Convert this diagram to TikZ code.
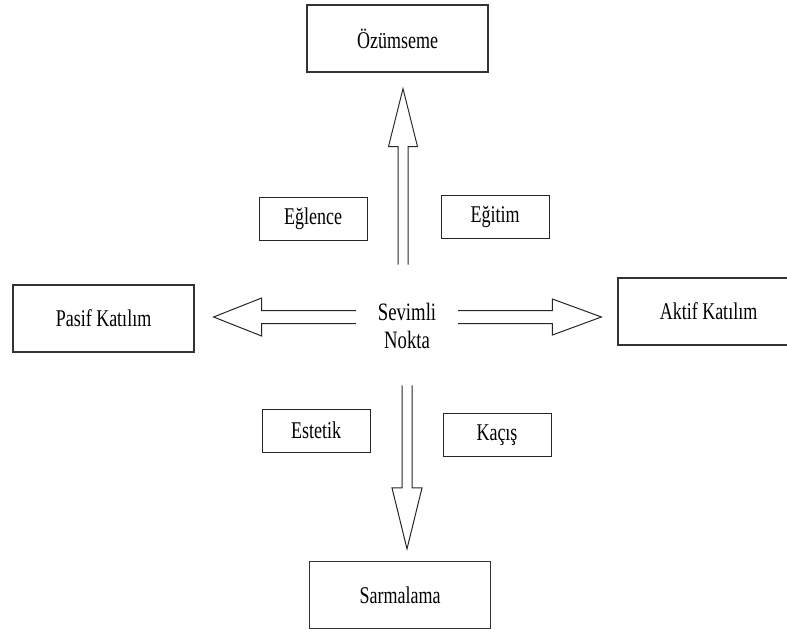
\documentclass[tikz,border=0pt]{standalone}
\usepackage{fontspec}
\setmainfont[FakeStretch=0.75]{Liberation Serif}
\usetikzlibrary{calc, positioning}

\begin{document}
\begin{tikzpicture}[
    x=1pt, y=-1pt,
    bigbox/.style={rectangle, draw=black!80, line width=1.2pt, minimum width=181pt, minimum height=67pt, font=\fontsize{24}{28}\selectfont},
    smallbox/.style={rectangle, draw=black!85, line width=1pt, minimum width=108pt, minimum height=43pt, font=\fontsize{24}{26}\selectfont},
    centre/.style={minimum width=70pt, minimum height=52pt, align=center, font=\fontsize{25}{28}\selectfont},
    openarrow/.style n args={5}{draw=black!85, line width=1pt, line join=miter, to path={
        ($(\tikztostart)!#1!(\tikztotarget)$) coordinate (oa-s)
        ($(\tikztotarget)!#2!(\tikztostart)$) coordinate (oa-t)
        ($(oa-t)!#3!(oa-s)$) coordinate (oa-b)
        ($(oa-s)!#5!90:(oa-t)$) -- ($(oa-b)!#5!90:(oa-t)$) -- ($(oa-b)!#4!90:(oa-t)$) -- (oa-t)
        -- ($(oa-b)!#4!-90:(oa-t)$) -- ($(oa-b)!#5!-90:(oa-t)$) -- ($(oa-s)!#5!-90:(oa-t)$)
    }}
]
    \clip (0,0) rectangle (787,634);

    % Centre
    \node [centre] (nokta) at (407,326) {Sevimli\\Nokta};

    % Outer boxes
    \node [bigbox] (ozumseme) at (397.5,38.5) {Özümseme};
    \node [bigbox] (pasif) at (103.5,318.5) {Pasif Katılım};
    \node [bigbox] (aktif) at (708.5,311.5) {Aktif Katılım};
    \node [bigbox] (sarmalama) at (400,595) {Sarmalama};

    % Small boxes
    \node [smallbox] (eglence) at (313,218.5) {Eğlence};
    \node [smallbox] (egitim) at (495,217) {Eğitim};
    \node [smallbox] (estetik) at (316,430.5) {Estetik};
    \node [smallbox] (kacis) at (497,435) {Kaçış};

    % Arrows
    \coordinate (lft) at ([yshift=9pt]nokta.west);
    \coordinate (rgt) at ([yshift=9pt]nokta.east);
    \draw [openarrow={35pt}{16pt}{58pt}{14.5pt}{5pt}] ([xshift=-4pt]nokta.north) to ([xshift=-4pt]nokta.north |- ozumseme.south);
    \draw [openarrow={33pt}{12pt}{61pt}{15pt}{5pt}] (nokta.south) to (nokta.south |- sarmalama.north);
    \draw [openarrow={16pt}{19pt}{48pt}{19pt}{6.5pt}] (lft) to (lft -| pasif.east);
    \draw [openarrow={16pt}{16pt}{49pt}{18pt}{6.5pt}] (rgt) to (rgt -| aktif.west);
\end{tikzpicture}
\end{document}
